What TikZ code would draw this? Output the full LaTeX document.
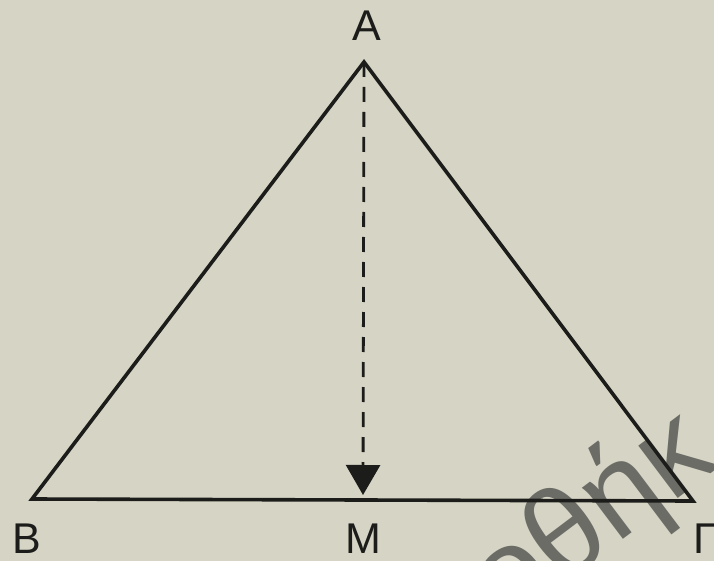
\documentclass[tikz,border=0pt]{standalone}
\usepackage{fontspec}
\setmainfont{Liberation Sans}
\usetikzlibrary{arrows.meta}
\definecolor{paper}{RGB}{213,212,197}
\definecolor{ink}{RGB}{28,28,26}
\definecolor{wmgray}{RGB}{108,108,102}
\tikzset{
  edge/.style={draw=ink, line width=3.6pt, line join=miter},
  median/.style={draw=ink, line width=2.8pt, dash pattern=on 15pt off 10pt,
    -{Triangle[length=30pt,width=34pt]}},
  vlabel/.style={text=ink, font=\fontsize{43}{48}\selectfont, inner sep=0pt, anchor=base},
  wmark/.style={text=wmgray, font=\fontsize{124}{126}\selectfont,
    inner sep=0pt, rotate=37, anchor=base west}
}
\begin{document}
\begin{tikzpicture}[x=1pt,y=-1pt]
\fill[paper] (0,0) rectangle (714,561);
\useasboundingbox (0,0) rectangle (714,561);
\begin{scope}
\clip (0,0) rectangle (714,561);
\node[wmark] (wm) at (506,628) {οθήκ};
\end{scope}
\coordinate (A) at (364,62);
\coordinate (B) at (32,499);
\coordinate (G) at (693,501);
\coordinate (M) at (363,495);
\draw[edge] (A) -- (B) -- (G) -- cycle;
\draw[median] (A) -- (M);
\node[vlabel] (lA) at (367,41) {A};
\node[vlabel] (lB) at (27,553) {B};
\node[vlabel] (lM) at (363,553) {M};
\node[vlabel, anchor=base west] (lG) at (693,553) {Γ};
\end{tikzpicture}
\end{document}
